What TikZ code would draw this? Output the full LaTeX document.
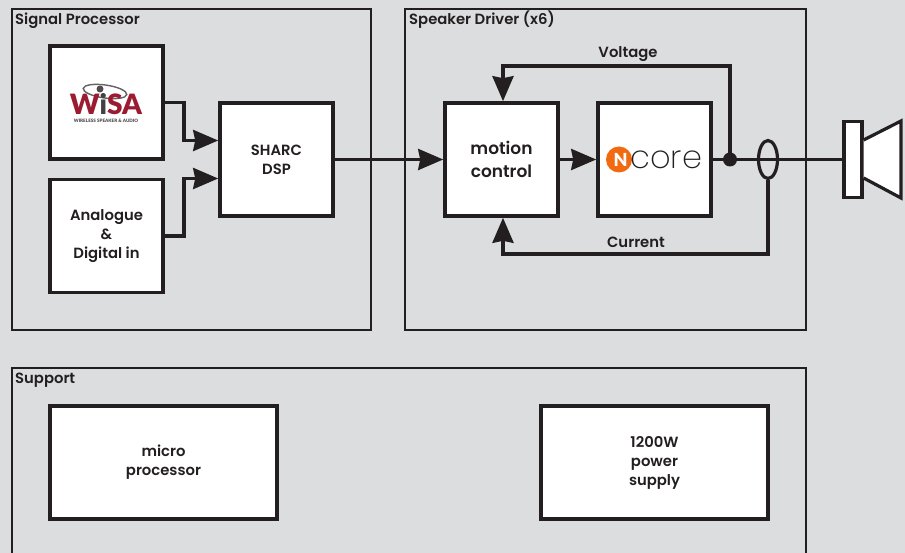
\documentclass[tikz,border=0pt]{standalone}
\usepackage{fontspec}
\setmainfont{Poppins SemiBold}
\newfontfamily\corefont{Poppins ExtraLight}
\newfontfamily\wisafont{Lato Black}
\usetikzlibrary{arrows.meta,shapes.geometric,positioning}
\definecolor{panelbg}{HTML}{DCDDDF}
\definecolor{ink}{HTML}{231F20}
\definecolor{wisared}{HTML}{9B1B30}
\definecolor{coreorange}{HTML}{F26A10}
\begin{document}
\begin{tikzpicture}[
      x=1pt, y=-1pt,
      every node/.style={font=\fontsize{14.8}{19}\selectfont, text=ink},
      block/.style={rectangle, draw=ink, fill=white, line width=3.6pt, align=center, inner sep=0pt, minimum width=113pt, minimum height=113pt},
      wideblock/.style={block, minimum width=227pt},
      speaker/.style={rectangle, draw=ink, fill=white, line width=3.2pt, inner sep=0pt, minimum width=18pt, minimum height=76pt},
      panel/.style={draw=ink, line width=1.4pt},
      title/.style={anchor=base west, inner sep=0pt},
      wire/.style={draw=ink, line width=3.4pt},
      sig/.style={wire, -{Stealth[length=25pt,width=21pt,inset=2pt]}},
      label/.style={inner sep=0pt}
  ]
    \fill[panelbg] (0,0) rectangle (905,553);
    \useasboundingbox (0,0) rectangle (905,553);

    \draw[panel] (12,9) rectangle (371,330);
    \draw[panel] (405,9) rectangle (806,330);
    \draw[panel] (12,553) -- (12,368) -- (806,368) -- (806,553);
    \node[title] (sigtitle) at (15,24.5) {Signal Processor};
    \node[title] (drvtitle) at (409,24.5) {Speaker Driver (x6)};
    \node[title] (suptitle) at (15,383) {Support};

    \node[block] (wisa) at (106.5,102.5) {};
    \node[block] (analogue) at (106.5,236) {Analogue\\\&\\Digital in};
    \node[block] (sharc) at (276.5,159.5) {SHARC\\DSP};
    \node[block, font=\fontsize{17}{22.5}\selectfont] (motion) at (501.5,159.5) {motion\\control};
    \node[block] (ncore) at (654.5,159.5) {};
    \node[wideblock] (micro) at (163.5,462.5) {micro\\processor};
    \node[wideblock] (power) at (654.5,462.5) {1200W\\power\\supply};

    % logos
    \draw[gray!70!ink, line width=1.4pt, rotate around={-8:(105,91.5)}] (105,91.5) ellipse (22 and 6.5);
    \fill[ink!80] (100,89) circle (3.5);
    \node[inner sep=0pt, anchor=base, text=wisared, font=\wisafont\fontsize{28}{28}\selectfont] (wisaname) at (106,114.5) {W\textcolor{ink!85}{i}SA};
    \node[inner sep=0pt, font=\wisafont\fontsize{4.6}{4.6}\selectfont, text=ink!80] (wisasub) at (106,120.5) {WIRELESS SPEAKER \& AUDIO};
    \node[circle, fill=coreorange, minimum size=26pt, inner sep=0pt, text=white, font=\wisafont\fontsize{18}{18}\selectfont] (coredot) at (619,159.5) {\hspace{3pt}N};
    \node[right=-2pt of coredot, inner sep=0pt, font=\corefont\fontsize{32}{32}\selectfont] (corename) {core};

    \node[speaker] (spk) at (853,159.5) {};
    \node[circle, fill=ink, minimum size=14pt, inner sep=0pt] (tap) at (730,159.5) {};
    \node[ellipse, draw=ink, line width=3.2pt, minimum width=19pt, minimum height=38pt, inner sep=0pt] (sense) at (768,159.5) {};
    \draw[draw=ink, fill=white, line width=3.2pt, line join=miter] (spk.east |- 0,140) -- (901,121) -- (901,198) -- (spk.east |- 0,178);

    \draw[sig] (wisa.east) -- ++(19,0) |- ([yshift=19pt]sharc.west);
    \draw[sig] (analogue.east) -- ++(19,0) |- ([yshift=-19pt]sharc.west);
    \draw[sig] (sharc.east) -- (motion.west);
    \draw[sig] (motion.east) -- (ncore.west);
    \draw[wire] (ncore.east) -- (spk.west);
    \draw[sig] (tap.center) -- (tap |- 0,66) -| ([xshift=1.5pt]motion.north);
    \draw[sig] (sense.south) -- (sense.south |- 0,254) -| ([xshift=1.5pt]motion.south);

    \node[label] (voltlabel) at (628,54) {Voltage};
    \node[label] (currlabel) at (636,242) {Current};
  \end{tikzpicture}
\end{document}
